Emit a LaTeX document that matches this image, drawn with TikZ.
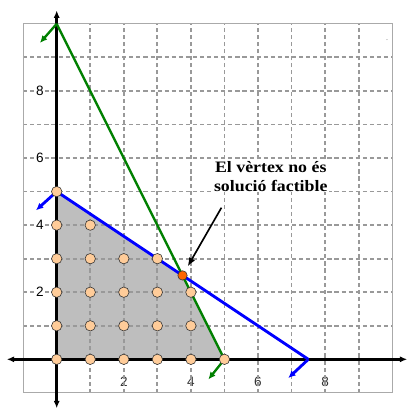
\documentclass[tikz,border=0pt]{standalone}
\usepackage{fontspec}
\setmainfont{Liberation Serif}
\setsansfont{Liberation Sans}
\newfontfamily\notefont[FakeStretch=1.12]{Liberation Serif}
\usepackage{tikz}
\usetikzlibrary{arrows.meta}
\definecolor{PGrid}{HTML}{999999}
\definecolor{PFrame}{HTML}{AAAAAA}
\definecolor{PShade}{HTML}{BEBEBE}
\definecolor{PPeach}{HTML}{FFCC99}
\definecolor{POrange}{HTML}{FF6600}
\definecolor{PGreen}{HTML}{008000}
\definecolor{PBlue}{HTML}{0000FF}

\begin{document}
\begin{tikzpicture}[
  grid/.style={draw=PGrid, line width=1.5pt, dash pattern=on 3.5pt off 2.5pt},
  frame/.style={draw=PFrame, line width=1pt},
  axis/.style={{Latex[length=2.2mm,width=1.8mm]}-{Latex[length=2.2mm,width=1.8mm]}, line width=2.2pt, draw=black},
  eqA/.style={draw=PGreen, line width=2pt},
  eqB/.style={draw=PBlue, line width=2.4pt},
  side/.style={-{Latex[length=2.2mm,width=2mm]}},
  xlab/.style={font=\fontsize{11.5}{13}\sffamily, text=black!80},
  ylab/.style={font=\fontsize{11.5}{13}\sffamily, fill=white, inner sep=1pt},
  pt/.style={circle, draw=black!80, fill=PPeach, line width=0.5pt, inner sep=0pt, minimum size=3.1mm},
  vtx/.style={circle, draw=black!80, fill=POrange, line width=0.5pt, inner sep=0pt, minimum size=2.8mm},
  note/.style={font=\notefont\fontsize{13.5}{15.5}\selectfont\bfseries, fill=white, align=center, inner sep=1pt},
  pointer/.style={-{Latex[length=2.6mm,width=2mm]}, line width=1.4pt, draw=black}]
\useasboundingbox (-1.69,-1.57) rectangle (10.53,10.71);
% corners of the feasible set
\coordinate (O) at (0,0);
\coordinate (A) at (0,5);
\coordinate (B) at (5,0);
\coordinate (C) at (0,10);
\coordinate (D) at (7.5,0);
\fill[PShade] (O) -- (A) -- (3.75,2.5) -- (B) -- cycle;
% labels under the grid
\foreach \k in {2,4,6,8} {\node[xlab] (x\k) at (\k,-0.68) {\k};}
\foreach \k in {0,...,9} {
  \draw[grid] (\k,-1) -- (\k,10);
  \draw[grid] (-1,\k) -- (10,\k);
}
\draw[frame] (-1,-1) rectangle (10,10);
\foreach \k in {2,4,6,8} {\node[ylab] (y\k) at (-0.5,\k) {\k};}
% axes
\coordinate (xl) at (-1.49,0); \coordinate (xr) at (10.45,0);
\coordinate (yb) at (0,-1.46); \coordinate (yt) at (0,10.4);
\draw[axis] (xl) -- (xr);
\draw[axis] (yb) -- (yt);
% the two constraints
\coordinate (cA) at (-0.5,9.43); \coordinate (bA) at (4.52,-0.6);
\coordinate (cB) at (-0.62,4.44); \coordinate (dB) at (6.9,-0.56);
\draw[eqA] (C) -- (B);
\draw[eqA, side] (C) -- (cA);
\draw[eqA, side] (B) -- (bA);
\draw[eqB] (A) -- (D);
\draw[eqB, side] (A) -- (cB);
\draw[eqB, side] (D) -- (dB);
% integer points
\foreach \x/\y in {0/0,1/0,2/0,3/0,4/0,5/0,0/1,1/1,2/1,3/1,4/1,0/2,1/2,2/2,3/2,4/2,0/3,1/3,2/3,3/3,0/4,1/4,0/5}
  {\node[pt] (p\x\y) at (\x,\y) {};}
\node[vtx] (v) at (3.75,2.5) {};
\node[note] (txt) at (6.38,5.45) {El vèrtex no és\\solució factible};
\coordinate (tail) at (4.91,4.52);
\draw[pointer, shorten >=1.6mm] (tail) -- (v);
\node[font=\tiny, inner sep=0pt] (stray) at (9.85,9.52) {.};
\end{tikzpicture}
\end{document}
